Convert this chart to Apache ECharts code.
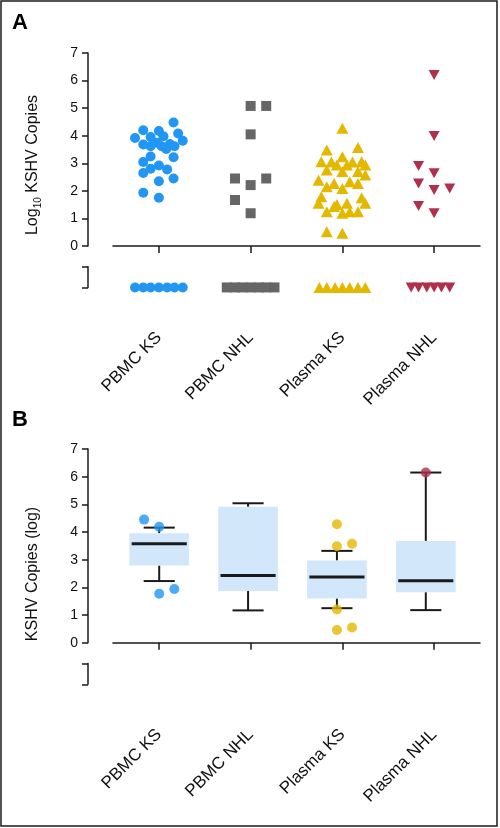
<!DOCTYPE html>
<html>
<head>
<meta charset="utf-8">
<script src="https://cdn.jsdelivr.net/npm/echarts@6/dist/echarts.min.js"></script>
<style>html,body{margin:0;padding:0;background:#fff}#c{width:500px;height:828px}</style>
</head>
<body>
<div id="c"></div>
<script>
// ---------- DATA ----------
const categories = ['PBMC KS', 'PBMC NHL', 'Plasma KS', 'Plasma NHL'];
const yTicksMin = 0, yTicksMax = 7;
const undetectedValue = -1.5;     // plotted row for undetectable samples (below axis break)
const breakTop = -0.75;           // top of the axis-break bracket

// Panel A: detected values (log10 copies) and horizontal jitter (category units)
const pbmcKsValues = [4.48, 4.20, 4.17, 4.08, 3.92, 3.95, 3.98, 3.82, 3.68, 3.75, 3.70, 3.62, 3.52, 3.62, 3.62, 3.25, 3.05, 3.22, 2.92, 2.78, 2.65, 2.80, 2.45, 2.35, 1.93, 1.75];
const pbmcKsJitter = [0.16, -0.17, 0, 0.21, -0.26, -0.09, 0.05, 0.26, -0.17, -0.02, 0.12, -0.09, 0.08, 0.03, 0.17, -0.09, -0.17, 0.16, 0, 0.09, -0.17, -0.09, 0.16, 0, -0.17, 0];
const pbmcKsUndetJitter = [-0.26, -0.17, -0.09, 0, 0.09, 0.17, 0.26];

const pbmcNhlValues = [5.08, 5.08, 4.05, 2.45, 2.45, 2.21, 1.67, 1.19];
const pbmcNhlJitter = [0, 0.17, 0, -0.17, 0.17, 0, -0.17, 0];
const pbmcNhlUndetJitter = [-0.26, -0.17, -0.09, 0, 0.09, 0.17, 0.26];

const plasmaKsValues = [4.27, 3.48, 3.57, 3.24, 3.06, 2.94, 2.94, 3.06, 2.94, 2.76, 2.70, 2.70, 2.58, 2.39, 2.27, 2.33, 2.27, 2.15, 2.09, 1.79, 1.75, 1.55, 1.51, 1.55, 1.55, 1.24, 1.43, 1.19, 1.24, 1.24, 0.52, 0.46, 3.05, 3.05];
const plasmaKsJitter = [0, -0.17, 0.17, 0, -0.23, -0.06, 0.05, 0.21, 0.25, -0.17, 0, 0.17, 0.25, -0.26, -0.09, 0.08, 0.17, -0.17, 0, -0.23, 0.21, -0.26, -0.06, 0.05, 0.25, -0.17, -0.09, 0, 0.08, 0.17, -0.17, 0, -0.12, 0.11];
const plasmaKsUndetJitter = [-0.25, -0.17, -0.08, 0, 0.08, 0.17, 0.25];

const plasmaNhlValues = [6.20, 3.99, 2.90, 2.64, 2.27, 2.03, 2.09, 1.45, 1.19];
const plasmaNhlJitter = [0, 0, -0.17, 0, -0.17, 0, 0.17, -0.17, 0];
const plasmaNhlUndetJitter = [-0.25, -0.17, -0.08, 0, 0.08, 0.17];

// Panel B: box plot statistics per category
const whiskerLow  = [2.23, 1.17, 1.25, 1.18];
const quartile1   = [2.79, 1.87, 1.60, 1.83];
const medians     = [3.58, 2.43, 2.38, 2.24];
const quartile3   = [3.96, 4.91, 2.97, 3.68];
const whiskerHigh = [4.16, 5.04, 3.32, 6.15];
// outliers: category index, jitter, value
const outlierCat    = [0, 0, 0, 0, 2, 2, 2, 2, 2, 2, 3];
const outlierJitter = [-0.17, 0, 0, 0.17, 0, 0, 0.17, 0, 0, 0.17, 0];
const outlierValues = [4.45, 4.19, 1.77, 1.94, 4.28, 3.49, 3.58, 1.20, 0.46, 0.55, 6.15];

// ---------- STYLE ----------
const colors = ['#2196f3', '#666666', '#e5b800', '#b0304b'];
const boxFill = '#d3e7fb';
const ink = '#1a1a1a';
const font = "'Liberation Sans', Arial, Helvetica, sans-serif";

// ---------- LAYOUT ----------
const plotLeft = 113, plotWidth = 367, axisX = 88;
const yMin = -2.5, yMax = 7;
const panelA = {top: 53, height: 262};
const panelB = {top: 449, height: 263};
function segGrid(p, lo, hi) {
  const unit = p.height / (yMax - yMin);
  return {left: axisX, width: 20, top: p.top + (yMax - hi) * unit, height: (hi - lo) * unit};
}

const grids = [
  {left: plotLeft, width: plotWidth, top: panelA.top, height: panelA.height},
  segGrid(panelA, yTicksMin, yTicksMax),
  segGrid(panelA, undetectedValue, breakTop),
  {left: plotLeft, width: plotWidth, top: panelB.top, height: panelB.height},
  segGrid(panelB, yTicksMin, yTicksMax),
  segGrid(panelB, undetectedValue, breakTop)
];

const axisLineStyle = {color: ink, width: 1.5};
function catAxis(gi) {
  return {
    type: 'category', gridIndex: gi, data: categories, boundaryGap: true,
    axisLine: {show: true, lineStyle: axisLineStyle},
    axisTick: {show: true, alignWithLabel: true, length: 7, lineStyle: axisLineStyle},
    axisLabel: {rotate: 45, fontSize: 17, color: '#111', margin: 20, fontFamily: font},
    splitLine: {show: false}
  };
}
function hiddenX(gi, min, max) {
  return {type: 'value', gridIndex: gi, min: min, max: max, show: false, splitLine: {show: false}};
}
function hiddenY(gi) {
  return {type: 'value', gridIndex: gi, min: yMin, max: yMax, show: false, splitLine: {show: false}};
}
function tickY(gi) {
  return {
    type: 'value', gridIndex: gi, min: yTicksMin, max: yTicksMax, interval: 1,
    axisLine: {show: true, lineStyle: axisLineStyle},
    axisTick: {show: true, length: 6, lineStyle: axisLineStyle},
    axisLabel: {fontSize: 14, color: '#111', margin: 10, fontFamily: font},
    splitLine: {show: false}
  };
}
function breakY(gi) {
  return {
    type: 'value', gridIndex: gi, min: undetectedValue, max: breakTop, interval: breakTop - undetectedValue,
    axisLine: {show: true, lineStyle: axisLineStyle},
    axisTick: {show: true, length: 6, lineStyle: axisLineStyle},
    axisLabel: {show: false}, splitLine: {show: false}
  };
}

const xAxes = [
  catAxis(0),                 // 0
  hiddenX(0, -0.5, 3.5),      // 1 scatter x for panel A
  hiddenX(1, 0, 1),           // 2
  hiddenX(2, 0, 1),           // 3
  catAxis(3),                 // 4
  hiddenX(3, -0.52, 3.61),    // 5 box positions panel B
  hiddenX(4, 0, 1),           // 6
  hiddenX(5, 0, 1)            // 7
];
const yAxes = [
  hiddenY(0), tickY(1), breakY(2),
  hiddenY(3), tickY(4), breakY(5)
];

function pts(ci, values, jitter, undetJitter) {
  const d = values.map((v, i) => [ci + jitter[i], v]);
  undetJitter.forEach(j => d.push([ci + j, undetectedValue]));
  return d;
}

const symbols = [
  {symbol: 'circle', size: 10, rot: 0},
  {symbol: 'rect', size: 10, rot: 0},
  {symbol: 'triangle', size: [12, 11], rot: 0},
  {symbol: 'triangle', size: [11, 10], rot: 180}
];
const groupsA = [
  pts(0, pbmcKsValues, pbmcKsJitter, pbmcKsUndetJitter),
  pts(1, pbmcNhlValues, pbmcNhlJitter, pbmcNhlUndetJitter),
  pts(2, plasmaKsValues, plasmaKsJitter, plasmaKsUndetJitter),
  pts(3, plasmaNhlValues, plasmaNhlJitter, plasmaNhlUndetJitter)
];

const series = groupsA.map((d, i) => ({
  type: 'scatter', xAxisIndex: 1, yAxisIndex: 0, data: d,
  symbol: symbols[i].symbol, symbolSize: symbols[i].size, symbolRotate: symbols[i].rot,
  itemStyle: {color: colors[i], opacity: 1}, silent: true, z: 3
}));

const boxData = categories.map((c, i) => [i, whiskerLow[i], quartile1[i], medians[i], quartile3[i], whiskerHigh[i]]);
series.push({
  type: 'custom', xAxisIndex: 5, yAxisIndex: 3, data: boxData, silent: true, z: 2,
  encode: {x: 0, y: [1, 2, 3, 4, 5]},
  renderItem: function (params, api) {
    const x = api.value(0);
    const lo = api.coord([x, api.value(1)]);
    const q1 = api.coord([x, api.value(2)]);
    const md = api.coord([x, api.value(3)]);
    const q3 = api.coord([x, api.value(4)]);
    const hi = api.coord([x, api.value(5)]);
    const halfBox = (api.coord([x + 0.336, 0])[0] - lo[0]);
    const halfCap = (api.coord([x + 0.175, 0])[0] - lo[0]);
    const halfMed = (api.coord([x + 0.31, 0])[0] - lo[0]);
    const ls = {stroke: ink, lineWidth: 2};
    return {type: 'group', children: [
      {type: 'line', shape: {x1: lo[0], y1: lo[1], x2: q1[0], y2: q1[1]}, style: ls},
      {type: 'line', shape: {x1: hi[0], y1: hi[1], x2: q3[0], y2: q3[1]}, style: ls},
      {type: 'line', shape: {x1: lo[0] - halfCap, y1: lo[1], x2: lo[0] + halfCap, y2: lo[1]}, style: ls},
      {type: 'line', shape: {x1: hi[0] - halfCap, y1: hi[1], x2: hi[0] + halfCap, y2: hi[1]}, style: ls},
      {type: 'rect', shape: {x: q3[0] - halfBox, y: q3[1], width: 2 * halfBox, height: q1[1] - q3[1]}, style: {fill: boxFill}},
      {type: 'line', shape: {x1: md[0] - halfMed, y1: md[1], x2: md[0] + halfMed, y2: md[1]}, style: {stroke: ink, lineWidth: 3}}
    ]};
  }
});
series.push({
  type: 'scatter', xAxisIndex: 5, yAxisIndex: 3, silent: true, z: 4,
  symbol: 'circle', symbolSize: 10,
  data: outlierValues.map((v, i) => ({value: [outlierCat[i] + outlierJitter[i], v], itemStyle: {color: colors[outlierCat[i]]}}))
});

const option = {
  animation: false,
  textStyle: {fontFamily: font},
  grid: grids,
  xAxis: xAxes,
  yAxis: yAxes,
  series: series,
  graphic: [
    {type: 'rect', shape: {x: 1, y: 1, width: 496, height: 825}, style: {fill: 'none', stroke: ink, lineWidth: 1.5}, silent: true},
    {type: 'text', x: 12, y: 23, style: {text: 'A', font: 'bold 22px ' + font, fill: '#000', textVerticalAlign: 'middle'}},
    {type: 'text', x: 12, y: 420, style: {text: 'B', font: 'bold 22px ' + font, fill: '#000', textVerticalAlign: 'middle'}},
    {type: 'text', x: 33, y: 165, rotation: Math.PI / 2, style: {
      text: '{a|Log}{s|10}{a| KSHV Copies}', textAlign: 'center', textVerticalAlign: 'middle',
      rich: {a: {fontSize: 16, fontFamily: font, fill: '#111', lineHeight: 20, verticalAlign: 'middle'},
             s: {fontSize: 10, fontFamily: font, fill: '#111', lineHeight: 20, verticalAlign: 'bottom', padding: [8, 0, 0, 0]}}
    }},
    {type: 'text', x: 33, y: 574, rotation: Math.PI / 2, style: {
      text: 'KSHV Copies (log)', textAlign: 'center', textVerticalAlign: 'middle',
      font: '16px ' + font, fill: '#111'
    }}
  ]
};

const chart = echarts.init(document.getElementById('c'), null, {renderer: 'canvas'});
chart.setOption(option);
</script>
</body>
</html>
